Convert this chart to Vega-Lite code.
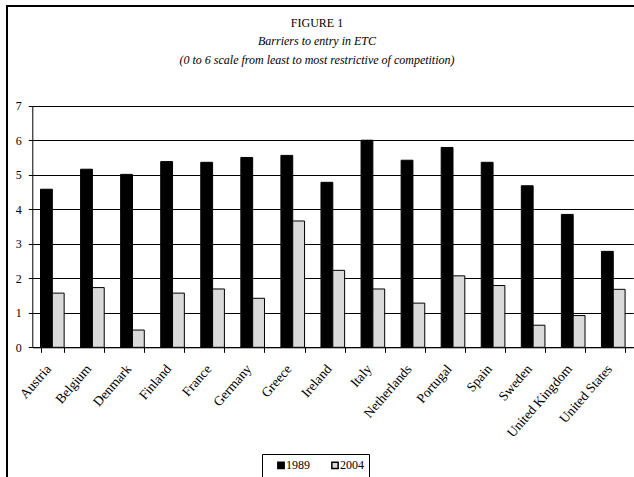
{
  "$schema": "https://vega.github.io/schema/vega-lite/v6.json",
  "autosize": {"type": "none"},
  "padding": {"left": 7, "top": 6, "right": 0, "bottom": 0},
  "width": 628,
  "height": 475,
  "background": "white",
  "title": {
    "text": "FIGURE 1",
    "subtitle": ["Barriers to entry in ETC", "(0 to 6 scale from least to most restrictive of competition)"],
    "anchor": "middle",
    "orient": "top",
    "offset": -61,
    "dx": -4,
    "font": "Liberation Serif",
    "fontSize": 12,
    "fontWeight": "normal",
    "color": "black",
    "subtitleFont": "Liberation Serif",
    "subtitleFontSize": 12,
    "subtitleFontStyle": "italic",
    "subtitleColor": "black",
    "subtitlePadding": 6,
    "subtitleLineHeight": 19
  },
  "data": {
    "values": [
      {"country": "Austria", "year": "1989", "score": 4.58},
      {"country": "Austria", "year": "2004", "score": 1.57},
      {"country": "Belgium", "year": "1989", "score": 5.16},
      {"country": "Belgium", "year": "2004", "score": 1.73},
      {"country": "Denmark", "year": "1989", "score": 5.01},
      {"country": "Denmark", "year": "2004", "score": 0.5},
      {"country": "Finland", "year": "1989", "score": 5.38},
      {"country": "Finland", "year": "2004", "score": 1.57},
      {"country": "France", "year": "1989", "score": 5.36},
      {"country": "France", "year": "2004", "score": 1.69},
      {"country": "Germany", "year": "1989", "score": 5.5},
      {"country": "Germany", "year": "2004", "score": 1.42},
      {"country": "Greece", "year": "1989", "score": 5.56},
      {"country": "Greece", "year": "2004", "score": 3.66},
      {"country": "Ireland", "year": "1989", "score": 4.78},
      {"country": "Ireland", "year": "2004", "score": 2.23},
      {"country": "Italy", "year": "1989", "score": 6.0},
      {"country": "Italy", "year": "2004", "score": 1.69},
      {"country": "Netherlands", "year": "1989", "score": 5.42},
      {"country": "Netherlands", "year": "2004", "score": 1.28},
      {"country": "Portugal", "year": "1989", "score": 5.79},
      {"country": "Portugal", "year": "2004", "score": 2.07},
      {"country": "Spain", "year": "1989", "score": 5.36},
      {"country": "Spain", "year": "2004", "score": 1.79},
      {"country": "Sweden", "year": "1989", "score": 4.68},
      {"country": "Sweden", "year": "2004", "score": 0.64},
      {"country": "United Kingdom", "year": "1989", "score": 3.85},
      {"country": "United Kingdom", "year": "2004", "score": 0.92},
      {"country": "United States", "year": "1989", "score": 2.78},
      {"country": "United States", "year": "2004", "score": 1.68}
    ]
  },
  "mark": {"type": "bar", "stroke": "black", "strokeWidth": 1},
  "encoding": {
    "x": {
      "field": "country",
      "type": "nominal",
      "sort": null,
      "scale": {"range": [25.3, 626.3], "paddingInner": 0.41, "paddingOuter": 0.205},
      "axis": {
        "title": null,
        "orient": "bottom",
        "offset": -133.7,
        "tickBand": "extent",
        "tickSize": 5,
        "tickColor": "black",
        "domainColor": "black",
        "labelAngle": -49,
        "labelAlign": "right",
        "labelBaseline": "middle",
        "labelPadding": 14,
        "labelOffset": -4,
        "labelFont": "Liberation Serif",
        "labelFontSize": 13.5,
        "labelColor": "black",
        "grid": false
      }
    },
    "xOffset": {
      "field": "year",
      "type": "nominal",
      "scale": {"paddingInner": 0, "paddingOuter": 0}
    },
    "y": {
      "field": "score",
      "type": "quantitative",
      "scale": {"domain": [0, 7], "nice": false, "range": [341.3, 99.7]},
      "axis": {
        "title": null,
        "orient": "left",
        "offset": -25.3,
        "values": [0, 1, 2, 3, 4, 5, 6, 7],
        "tickSize": 4,
        "tickColor": "black",
        "domainColor": "black",
        "labelPadding": 7,
        "labelFont": "Liberation Serif",
        "labelFontSize": 12,
        "labelColor": "black",
        "grid": true,
        "gridColor": "black",
        "gridWidth": 1,
        "gridOpacity": 1
      }
    },
    "fill": {
      "field": "year",
      "type": "nominal",
      "scale": {"domain": ["1989", "2004"], "range": ["#000000", "#dadada"]},
      "legend": {
        "title": null,
        "orient": "none",
        "legendX": 255,
        "legendY": 448,
        "direction": "horizontal",
        "strokeColor": "black",
        "padding": 5,
        "symbolType": "square",
        "symbolSize": 40,
        "symbolStrokeColor": "black",
        "symbolStrokeWidth": 1.5,
        "symbolOffset": 8,
        "labelOffset": -1,
        "columnPadding": 11,
        "labelFont": "Liberation Serif",
        "labelFontSize": 12,
        "labelColor": "black"
      }
    }
  },
  "config": {
    "view": {"stroke": "black", "strokeWidth": 2}
  }
}
